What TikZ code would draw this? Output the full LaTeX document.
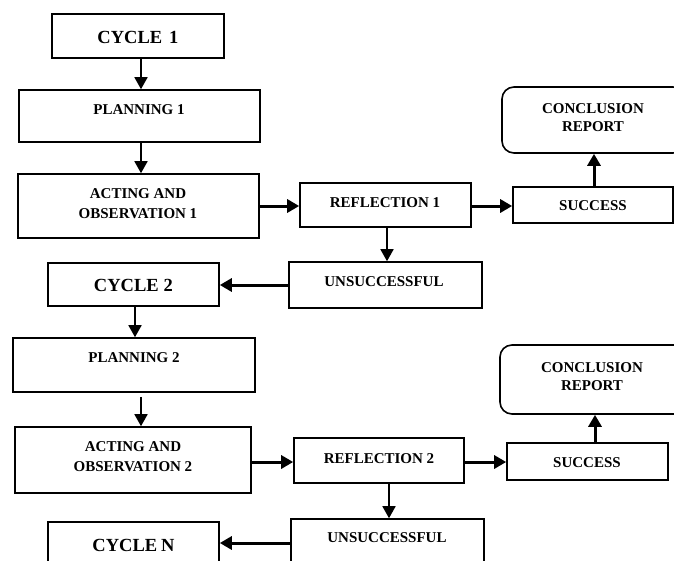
\documentclass[tikz,border=0pt]{standalone}
\usepackage{fontspec}
\setmainfont{Liberation Serif}
\usetikzlibrary{arrows.meta,calc}
\begin{document}
\begin{tikzpicture}[x=1pt,y=-1pt,
  box/.style={draw, line width=1.6pt, rectangle, inner sep=0pt},
  rbox/.style={box, rounded corners=12pt},
  lbl/.style={font=\bfseries\fontsize{15}{20}\selectfont, align=center, inner sep=0pt},
  big/.style={font=\bfseries\fontsize{18.5}{22}\selectfont, inner sep=0pt},
  thinarrow/.style={line width=1.7pt, -{Triangle[length=12pt,width=13pt]}},
  thickarrow/.style={line width=3pt, -{Triangle[length=12pt,width=13pt]}}]
\clip (0,0) rectangle (674,560);
\fill[white] (0,0) rectangle (674,560);
% boxes
\node[box, minimum width=172pt, minimum height=44pt] (c1) at (138,36) {};
\node[box, minimum width=241pt, minimum height=52pt] (p1) at (139.5,116) {};
\node[box, minimum width=241pt, minimum height=64pt] (a1) at (138.5,206) {};
\node[box, minimum width=171pt, minimum height=44pt] (r1) at (385.5,205) {};
\node[box, minimum width=160pt, minimum height=36pt] (s1) at (593,205) {};
\node[rbox, minimum width=183pt, minimum height=66pt] (k1) at (593.5,120) {};
\node[box, minimum width=193pt, minimum height=46pt] (u1) at (385.5,285) {};
\node[box, minimum width=171pt, minimum height=43pt] (c2) at (133.5,284.5) {};
\node[box, minimum width=242pt, minimum height=54pt] (p2) at (134,365) {};
\node[box, minimum width=236pt, minimum height=66pt] (a2) at (133,460) {};
\node[box, minimum width=170pt, minimum height=45pt] (r2) at (379,460.5) {};
\node[box, minimum width=161pt, minimum height=37pt] (s2) at (587.5,461.5) {};
\node[rbox, minimum width=186pt, minimum height=69pt] (k2) at (593,379.5) {};
\node[box, minimum width=193pt, minimum height=56pt] (u2) at (387.5,547) {};
\node[box, minimum width=171pt, minimum height=53pt] (cn) at (133.5,548.5) {};
% texts
\node[big] (c1t) at (138,37) {CYCLE\hspace{7pt}1};
\node[lbl] (p1t) at (139,110) {PLANNING 1};
\node[lbl] (a1t) at (138,204) {ACTING AND\\OBSERVATION 1};
\node[lbl] (r1t) at (385,203) {REFLECTION 1};
\node[lbl] (s1t) at (593,206) {SUCCESS};
\node[lbl, font=\bfseries\fontsize{15}{18}\selectfont] (k1t) at (593,118) {CONCLUSION\\REPORT};
\node[lbl] (u1t) at (384,282) {UNSUCCESSFUL};
\node[big] (c2t) at (133.5,285) {CYCLE\hspace{5pt}2};
\node[lbl] (p2t) at (134,358) {PLANNING 2};
\node[lbl] (a2t) at (133,457) {ACTING AND\\OBSERVATION 2};
\node[lbl] (r2t) at (379,459) {REFLECTION 2};
\node[lbl] (s2t) at (587,463) {SUCCESS};
\node[lbl, font=\bfseries\fontsize{15}{18}\selectfont] (k2t) at (592,377) {CONCLUSION\\REPORT};
\node[lbl] (u2t) at (387,538) {UNSUCCESSFUL};
\node[big] (cnt) at (133.5,545) {CYCLE\hspace{4pt}N};
% connectors
\draw[thinarrow] ([xshift=3pt]c1.south) -- ([xshift=3pt]c1.south |- p1.north);
\draw[thinarrow] ([xshift=1.5pt]p1.south) -- ([xshift=1.5pt]p1.south |- a1.north);
\draw[thickarrow] (a1.east) -- (a1.east -| r1.west);
\draw[thickarrow] ([yshift=-1pt]r1.east) -- ([yshift=-1pt]r1.east -| s1.west);
\draw[thickarrow] ([xshift=1pt]s1.north) -- ([xshift=1pt]s1.north |- k1.south);
\draw[thinarrow] ([xshift=1.5pt]r1.south) -- ([xshift=1.5pt]r1.south |- u1.north);
\draw[thickarrow] (u1.west) -- (u1.west -| c2.east);
\draw[thinarrow] ([xshift=1.5pt]c2.south) -- ([xshift=1.5pt]c2.south |- p2.north);
\draw[thinarrow, shorten <=4pt] ([xshift=7pt]p2.south) -- ([xshift=7pt]p2.south |- a2.north);
\draw[thickarrow] ([yshift=-2pt]a2.east) -- ([yshift=-2pt]a2.east -| r2.west);
\draw[thickarrow] ([yshift=-1.5pt]r2.east) -- ([yshift=-1.5pt]r2.east -| s2.west);
\draw[thickarrow] ([xshift=7.5pt]s2.north) -- ([xshift=7.5pt]s2.north |- k2.south);
\draw[thinarrow] ([xshift=10pt]r2.south) -- ([xshift=10pt]r2.south |- u2.north);
\draw[thickarrow] ([yshift=4pt]u2.west) -- ([yshift=4pt]u2.west -| cn.east);
\end{tikzpicture}
\end{document}
